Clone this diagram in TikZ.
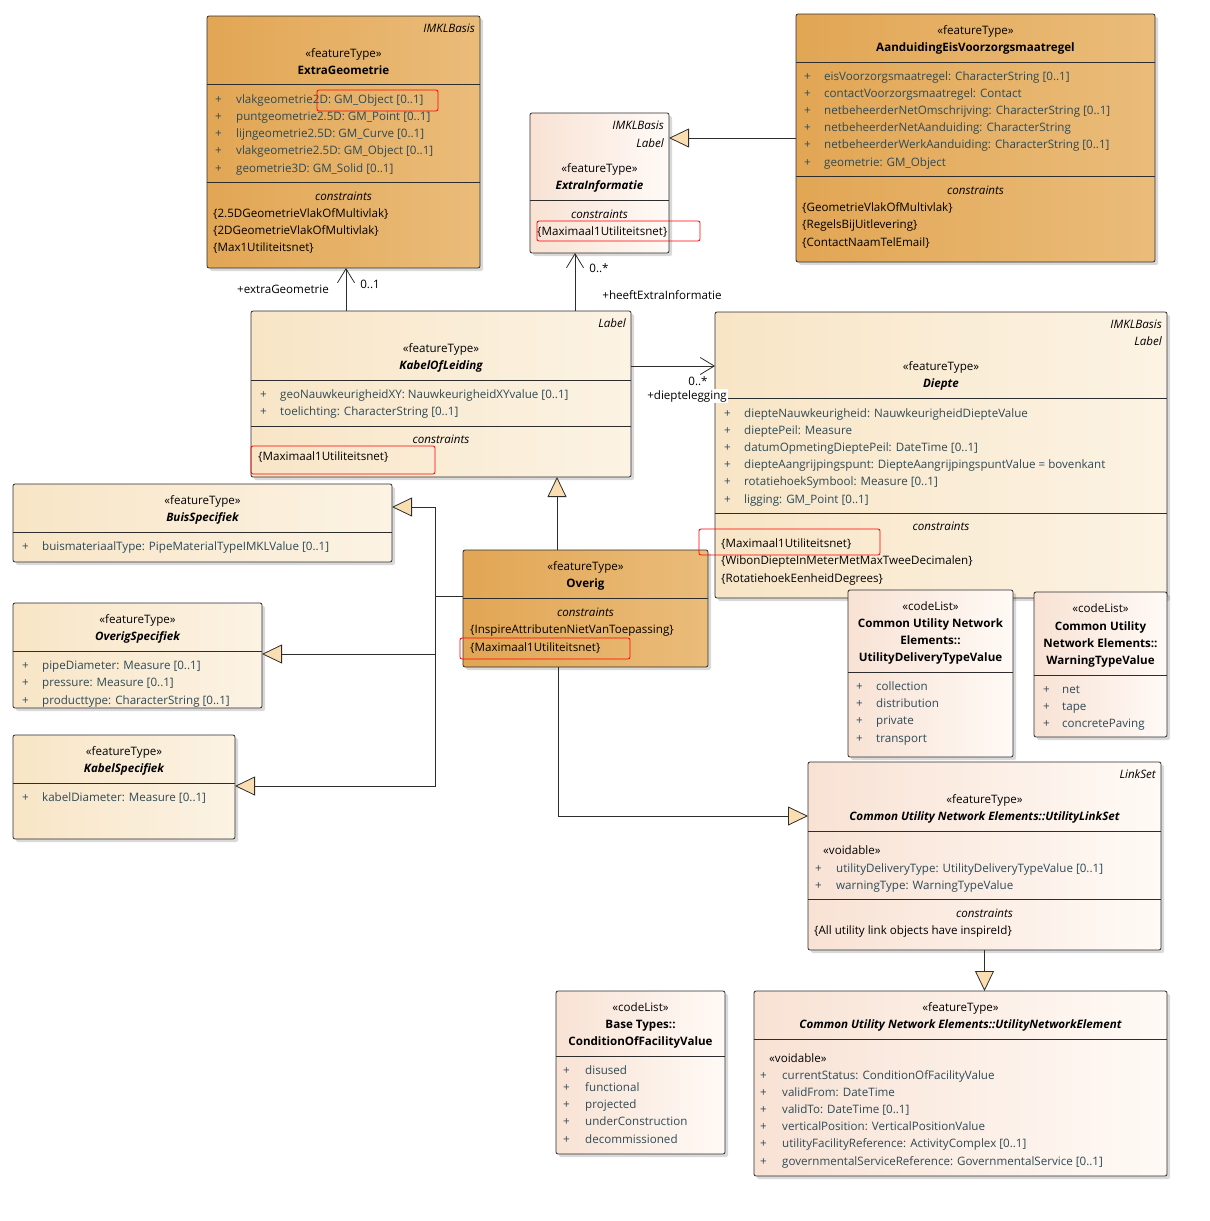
\documentclass[tikz,border=0pt]{standalone}
\usepackage{fontspec}
\setmainfont{Open Sans}
\usepackage{tikz}
\usetikzlibrary{arrows.meta,shadows}
\definecolor{darkleft}{RGB}{226,166,84}
\definecolor{darkright}{RGB}{234,188,122}
\definecolor{lightleft}{RGB}{248,229,198}
\definecolor{lightright}{RGB}{252,243,228}
\definecolor{pinkleft}{RGB}{248,226,212}
\definecolor{pinkright}{RGB}{255,250,246}
\definecolor{boxline}{RGB}{45,45,45}
\definecolor{attrcol}{RGB}{46,74,86}
\definecolor{genfill}{RGB}{250,222,178}
\newcommand\umlfont{\fontsize{11.6}{13}\selectfont}
\tikzset{
  class box/.style={
    rectangle,
    rounded corners=2pt,
    draw=boxline,
    line width=0.8pt,
    inner sep=0pt,
    outer sep=0pt,
    anchor=north west,
    drop shadow={shadow xshift=3pt, shadow yshift=-3pt, opacity=0.15, fill=black}
  },
  dark box/.style={class box, left color=darkleft, right color=darkright},
  light box/.style={class box, left color=lightleft, right color=lightright},
  pink box/.style={class box, left color=pinkleft, right color=pinkright},
  divider/.style={draw=boxline, line width=0.8pt},
  mark box/.style={draw=red, rounded corners=2pt, line width=0.8pt},
  txt/.style={inner sep=0pt, font=\umlfont, yshift=-1.5pt},
  head/.style={txt, anchor=mid},
  cname/.style={head, font=\umlfont\bfseries},
  iname/.style={head, font=\umlfont\bfseries\itshape},
  tagtxt/.style={txt, anchor=mid east, font=\umlfont\itshape},
  ctitle/.style={head, font=\umlfont\itshape},
  attr/.style={txt, anchor=mid west, text=attrcol},
  cons/.style={txt, anchor=mid west},
  mult/.style={txt, anchor=mid},
  gen/.style={
    draw=boxline,
    line width=0.8pt,
    -{Triangle[length=20pt, width=19pt, fill=genfill]}
  },
  assoc/.style={
    draw=boxline,
    line width=0.8pt,
    -{Straight Barb[length=14pt, width=17pt]}
  }
}

\begin{document}
\begin{tikzpicture}[x=1pt, y=-1pt]
  \useasboundingbox (0,0) rectangle (1210,1221);

  % Boxes
  \node[dark box, minimum width=273, minimum height=252] (extrageo) at (207,16) {};
  \node[pink box, minimum width=139, minimum height=140] (extrainfo) at (530,113) {};
  \node[dark box, minimum width=359, minimum height=248] (aanduiding) at (796,14) {};
  \node[light box, minimum width=380, minimum height=166] (kabel) at (251,311) {};
  \node[light box, minimum width=452, minimum height=286] (diepte) at (715,312) {};
  \node[light box, minimum width=379, minimum height=78] (buis) at (13,484) {};
  \node[light box, minimum width=249, minimum height=105] (overigspec) at (13,603) {};
  \node[light box, minimum width=222, minimum height=104] (kabelspec) at (13,735) {};
  \node[dark box, minimum width=245, minimum height=117] (overig) at (463,550) {};
  \node[pink box, minimum width=165, minimum height=167] (deliverytype) at (848,590) {};
  \node[pink box, minimum width=133, minimum height=145] (warningtype) at (1034,592) {};
  \node[pink box, minimum width=353, minimum height=188] (linkset) at (808,762) {};
  \node[pink box, minimum width=169, minimum height=163] (condition) at (556,991) {};
  \node[pink box, minimum width=413, minimum height=185] (netelement) at (754,991) {};

  % ExtraGeometrie
  \node[tagtxt] (eg-tag) at (475,28) {IMKLBasis};
  \node[head] (eg-st) at (343.5,53) {«featureType»};
  \node[cname] (eg-name) at (343.5,70) {ExtraGeometrie};
  \draw[divider] (extrageo.west |- 0,84) -- (extrageo.east |- 0,84);
  \foreach \a [count=\i from 0] in {{vlakgeometrie2D: GM\_Object [0..1]}, {puntgeometrie2.5D: GM\_Point [0..1]},
      {lijngeometrie2.5D: GM\_Curve [0..1]}, {vlakgeometrie2.5D: GM\_Object [0..1]}, {geometrie3D: GM\_Solid [0..1]}} {
    \node[attr] (eg-p\i) at (215,99+17.25*\i) {+};
    \node[attr] (eg-a\i) at (236,99+17.25*\i) {\a};
  }
  \draw[divider] (extrageo.west |- 0,182) -- (extrageo.east |- 0,182);
  \node[ctitle] (eg-ct) at (343.5,196) {constraints};
  \foreach \c [count=\i from 0] in {{\{2.5DGeometrieVlakOfMultivlak\}}, {\{2DGeometrieVlakOfMultivlak\}}, {\{Max1Utiliteitsnet\}}} {
    \node[cons] (eg-c\i) at (213,213+17*\i) {\c};
  }

  % ExtraInformatie
  \node[tagtxt] (ei-tag) at (664,125) {IMKLBasis};
  \node[tagtxt] (ei-tag2) at (664,143) {Label};
  \node[head] (ei-st) at (599.5,168) {«featureType»};
  \node[iname] (ei-name) at (599.5,185) {ExtraInformatie};
  \draw[divider] (extrainfo.west |- 0,200) -- (extrainfo.east |- 0,200);
  \node[ctitle] (ei-ct) at (599.5,214) {constraints};
  \node[cons] (ei-c0) at (537,231) {\{Maximaal1Utiliteitsnet\}};

  % AanduidingEisVoorzorgsmaatregel
  \node[head] (aa-st) at (975.5,30) {«featureType»};
  \node[cname] (aa-name) at (975.5,47) {AanduidingEisVoorzorgsmaatregel};
  \draw[divider] (aanduiding.west |- 0,62) -- (aanduiding.east |- 0,62);
  \foreach \a [count=\i from 0] in {{eisVoorzorgsmaatregel: CharacterString [0..1]}, {contactVoorzorgsmaatregel: Contact},
      {netbeheerderNetOmschrijving: CharacterString [0..1]}, {netbeheerderNetAanduiding: CharacterString},
      {netbeheerderWerkAanduiding: CharacterString [0..1]}, {geometrie: GM\_Object}} {
    \node[attr] (aa-p\i) at (804,76+17.2*\i) {+};
    \node[attr] (aa-a\i) at (824,76+17.2*\i) {\a};
  }
  \draw[divider] (aanduiding.west |- 0,176) -- (aanduiding.east |- 0,176);
  \node[ctitle] (aa-ct) at (975.5,190) {constraints};
  \foreach \c [count=\i from 0] in {{\{GeometrieVlakOfMultivlak\}}, {\{RegelsBijUitlevering\}}, {\{ContactNaamTelEmail\}}} {
    \node[cons] (aa-c\i) at (802,207+17.5*\i) {\c};
  }

  % KabelOfLeiding
  \node[tagtxt] (kl-tag) at (626,323) {Label};
  \node[head] (kl-st) at (441,348) {«featureType»};
  \node[iname] (kl-name) at (441,365) {KabelOfLeiding};
  \draw[divider] (kabel.west |- 0,380) -- (kabel.east |- 0,380);
  \foreach \a [count=\i from 0] in {{geoNauwkeurigheidXY: NauwkeurigheidXYvalue [0..1]}, {toelichting: CharacterString [0..1]}} {
    \node[attr] (kl-p\i) at (260,394+17*\i) {+};
    \node[attr] (kl-a\i) at (280,394+17*\i) {\a};
  }
  \draw[divider] (kabel.west |- 0,426) -- (kabel.east |- 0,426);
  \node[ctitle] (kl-ct) at (441,439) {constraints};
  \node[cons] (kl-c0) at (258,456) {\{Maximaal1Utiliteitsnet\}};

  % Diepte
  \node[tagtxt] (di-tag) at (1162,324) {IMKLBasis};
  \node[tagtxt] (di-tag2) at (1162,341) {Label};
  \node[head] (di-st) at (941,366) {«featureType»};
  \node[iname] (di-name) at (941,383) {Diepte};
  \draw[divider] (diepte.west |- 0,398) -- (diepte.east |- 0,398);
  \foreach \a [count=\i from 0] in {{diepteNauwkeurigheid: NauwkeurigheidDiepteValue}, {dieptePeil: Measure},
      {datumOpmetingDieptePeil: DateTime [0..1]}, {diepteAangrijpingspunt: DiepteAangrijpingspuntValue = bovenkant},
      {rotatiehoekSymbool: Measure [0..1]}, {ligging: GM\_Point [0..1]}} {
    \node[attr] (di-p\i) at (724,413+17.2*\i) {+};
    \node[attr] (di-a\i) at (744,413+17.2*\i) {\a};
  }
  \draw[divider] (diepte.west |- 0,513) -- (diepte.east |- 0,513);
  \node[ctitle] (di-ct) at (941,526) {constraints};
  \foreach \c [count=\i from 0] in {{\{Maximaal1Utiliteitsnet\}}, {\{WibonDiepteInMeterMetMaxTweeDecimalen\}}, {\{RotatiehoekEenheidDegrees\}}} {
    \node[cons] (di-c\i) at (721,543+17.5*\i) {\c};
  }

  % BuisSpecifiek
  \node[head] (bs-st) at (202.5,500) {«featureType»};
  \node[iname] (bs-name) at (202.5,517) {BuisSpecifiek};
  \draw[divider] (buis.west |- 0,532) -- (buis.east |- 0,532);
  \node[attr] (bs-p0) at (22,546) {+};
  \node[attr] (bs-a0) at (42,546) {buismateriaalType: PipeMaterialTypeIMKLValue [0..1]};

  % OverigSpecifiek
  \node[head] (os-st) at (137.5,619) {«featureType»};
  \node[iname] (os-name) at (137.5,636) {OverigSpecifiek};
  \draw[divider] (overigspec.west |- 0,651) -- (overigspec.east |- 0,651);
  \foreach \a [count=\i from 0] in {{pipeDiameter: Measure [0..1]}, {pressure: Measure [0..1]}, {producttype: CharacterString [0..1]}} {
    \node[attr] (os-p\i) at (22,665+17.5*\i) {+};
    \node[attr] (os-a\i) at (42,665+17.5*\i) {\a};
  }

  % KabelSpecifiek
  \node[head] (ks-st) at (124,751) {«featureType»};
  \node[iname] (ks-name) at (124,768) {KabelSpecifiek};
  \draw[divider] (kabelspec.west |- 0,783) -- (kabelspec.east |- 0,783);
  \node[attr] (ks-p0) at (22,797) {+};
  \node[attr] (ks-a0) at (42,797) {kabelDiameter: Measure [0..1]};

  % Overig
  \node[head] (ov-st) at (585.5,566) {«featureType»};
  \node[cname] (ov-name) at (585.5,583) {Overig};
  \draw[divider] (overig.west |- 0,598) -- (overig.east |- 0,598);
  \node[ctitle] (ov-ct) at (585.5,612) {constraints};
  \node[cons] (ov-c0) at (470,629) {\{InspireAttributenNietVanToepassing\}};
  \node[cons] (ov-c1) at (470,647) {\{Maximaal1Utiliteitsnet\}};

  % UtilityDeliveryTypeValue
  \node[head] (ud-st) at (930.5,606) {«codeList»};
  \node[cname] (ud-n0) at (930.5,623) {Common Utility Network};
  \node[cname] (ud-n1) at (930.5,640) {Elements::};
  \node[cname] (ud-n2) at (930.5,657) {UtilityDeliveryTypeValue};
  \draw[divider] (deliverytype.west |- 0,672) -- (deliverytype.east |- 0,672);
  \foreach \a [count=\i from 0] in {collection, distribution, private, transport} {
    \node[attr] (ud-p\i) at (856,686+17.3*\i) {+};
    \node[attr] (ud-a\i) at (876,686+17.3*\i) {\a};
  }

  % WarningTypeValue
  \node[head] (wt-st) at (1100.5,608) {«codeList»};
  \node[cname] (wt-n0) at (1100.5,626) {Common Utility};
  \node[cname] (wt-n1) at (1100.5,643) {Network Elements::};
  \node[cname] (wt-n2) at (1100.5,660) {WarningTypeValue};
  \draw[divider] (warningtype.west |- 0,675) -- (warningtype.east |- 0,675);
  \foreach \a [count=\i from 0] in {net, tape, concretePaving} {
    \node[attr] (wt-p\i) at (1043,689+17*\i) {+};
    \node[attr] (wt-a\i) at (1062,689+17*\i) {\a};
  }

  % UtilityLinkSet
  \node[tagtxt] (ls-tag) at (1156,774) {LinkSet};
  \node[head] (ls-st) at (984.5,799) {«featureType»};
  \node[iname] (ls-name) at (984.5,816) {Common Utility Network Elements::UtilityLinkSet};
  \draw[divider] (linkset.west |- 0,831) -- (linkset.east |- 0,831);
  \node[cons] (ls-void) at (823,850) {«voidable»};
  \foreach \a [count=\i from 0] in {{utilityDeliveryType: UtilityDeliveryTypeValue [0..1]}, {warningType: WarningTypeValue}} {
    \node[attr] (ls-p\i) at (815,868+17*\i) {+};
    \node[attr] (ls-a\i) at (836,868+17*\i) {\a};
  }
  \draw[divider] (linkset.west |- 0,899) -- (linkset.east |- 0,899);
  \node[ctitle] (ls-ct) at (984.5,913) {constraints};
  \node[cons] (ls-c0) at (814,930) {\{All utility link objects have inspireId\}};

  % ConditionOfFacilityValue
  \node[head] (cf-st) at (640.5,1007) {«codeList»};
  \node[cname] (cf-n0) at (640.5,1024) {Base Types::};
  \node[cname] (cf-n1) at (640.5,1041) {ConditionOfFacilityValue};
  \draw[divider] (condition.west |- 0,1056) -- (condition.east |- 0,1056);
  \foreach \a [count=\i from 0] in {disused, functional, projected, underConstruction, decommissioned} {
    \node[attr] (cf-p\i) at (563,1070+17.25*\i) {+};
    \node[attr] (cf-a\i) at (585,1070+17.25*\i) {\a};
  }

  % UtilityNetworkElement
  \node[head] (ne-st) at (960.5,1007) {«featureType»};
  \node[iname] (ne-name) at (960.5,1024) {Common Utility Network Elements::UtilityNetworkElement};
  \draw[divider] (netelement.west |- 0,1039) -- (netelement.east |- 0,1039);
  \node[cons] (ne-void) at (769,1058) {«voidable»};
  \foreach \a [count=\i from 0] in {{currentStatus: ConditionOfFacilityValue}, {validFrom: DateTime}, {validTo: DateTime [0..1]},
      {verticalPosition: VerticalPositionValue}, {utilityFacilityReference: ActivityComplex [0..1]},
      {governmentalServiceReference: GovernmentalService [0..1]}} {
    \node[attr] (ne-p\i) at (760,1075+17.2*\i) {+};
    \node[attr] (ne-a\i) at (782,1075+17.2*\i) {\a};
  }

  % Routing points
  \coordinate (geox) at (346,0);
  \coordinate (infox) at (575,0);
  \coordinate (dieptey) at (0,366);
  \coordinate (overigx) at (557,0);
  \coordinate (spec) at (435,596);
  \coordinate (buisin) at (392,507);
  \coordinate (overigspecin) at (262,654);
  \coordinate (kabelspecin) at (235,786);
  \coordinate (linksetin) at (808,816);
  \coordinate (downx) at (558,0);

  % Associations
  \draw[assoc] (kabel.north -| geox) -- (extrageo.south -| geox);
  \node[mult] (m-geo) at (370,284) {0..1};
  \node[mult] (r-geo) at (283,289) {+extraGeometrie};
  \draw[assoc] (kabel.north -| infox) -- (extrainfo.south -| infox);
  \node[mult] (m-info) at (599,268) {0..*};
  \node[mult] (r-info) at (662,295) {+heeftExtraInformatie};
  \draw[assoc] (kabel.east |- dieptey) -- (diepte.west |- dieptey);
  \node[mult] (m-diepte) at (698,381) {0..*};
  \node[mult, fill=white, inner sep=1pt] (r-diepte) at (687,395) {+dieptelegging};

  % Generalizations
  \draw[gen] (aanduiding.west) -- (aanduiding.west -| extrainfo.east);
  \draw[gen] (overig.north -| overigx) -- (kabel.south -| overigx);
  \draw[divider] (overig.west |- spec) -- (spec);
  \draw[gen] (spec) |- (buisin);
  \draw[gen] (spec) -- (spec |- overigspecin) -- (overigspecin);
  \draw[gen] (spec) |- (kabelspecin);
  \draw[gen] (overig.south -| downx) |- (linksetin);
  \draw[gen] (linkset.south) -- (linkset.south |- netelement.north);

  % Highlights
  \draw[mark box] (317,90) rectangle (438,111);
  \draw[mark box] (537,221) rectangle (700,241);
  \draw[mark box] (251,446) rectangle (435,474);
  \draw[mark box] (699,529) rectangle (880,555);
  \draw[mark box] (460,638) rectangle (630,659);
\end{tikzpicture}
\end{document}
